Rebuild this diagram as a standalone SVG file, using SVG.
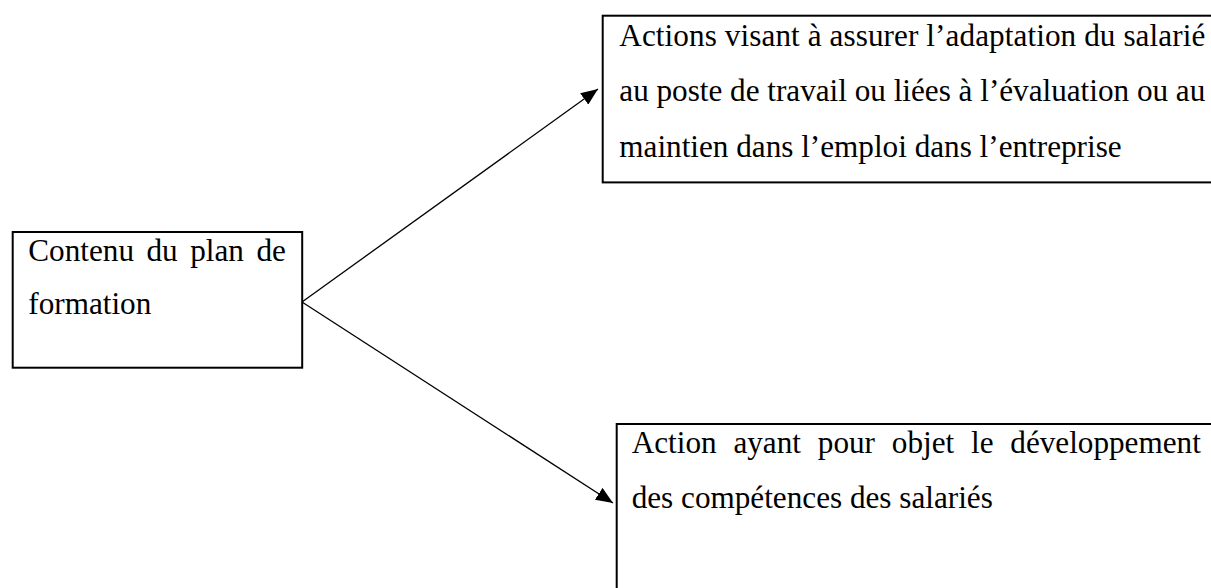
<svg xmlns="http://www.w3.org/2000/svg" width="1211" height="588" viewBox="0 0 1211 588">
<style>
.box{fill:#fff;stroke:#000;stroke-width:2}
.t{font-family:"Liberation Serif","Times New Roman",serif;font-size:31.2px;fill:#000}
.c{stroke:#000;stroke-width:1.3;fill:none}
</style>
<defs>
<marker id="ah" markerUnits="userSpaceOnUse" markerWidth="18" markerHeight="14" viewBox="0 0 18 14" refX="17" refY="7" orient="auto">
<path d="M0,0 L17,7 L0,14 Z" fill="#000"/>
</marker>
</defs>
<rect width="1211" height="588" fill="#fff"/>
<g id="connectors">
<line class="c" x1="302" y1="302" x2="598" y2="89" marker-end="url(#ah)"/>
<line class="c" x1="302" y1="302" x2="613" y2="503" marker-end="url(#ah)"/>
</g>
<g id="node-contenu">
<rect class="box" x="12.7" y="232" width="289.5" height="135.7"/>
<text class="t" y="261"><tspan x="28.3">Contenu</tspan><tspan x="146.5">du</tspan><tspan x="190.2">plan</tspan><tspan x="256.4">de</tspan></text>
<text class="t" x="28.3" y="314">formation</text>
</g>
<g id="node-adaptation">
<rect class="box" x="602.7" y="15.7" width="620" height="166.7"/>
<text class="t" x="619.3" y="45.6" textLength="586" lengthAdjust="spacing">Actions visant à assurer l’adaptation du salarié</text>
<text class="t" x="619.3" y="100.8" textLength="586" lengthAdjust="spacing">au poste de travail ou liées à l’évaluation ou au</text>
<text class="t" x="619.3" y="156.5">maintien dans l’emploi dans l’entreprise</text>
</g>
<g id="node-developpement">
<rect class="box" x="616.7" y="424" width="620" height="200"/>
<text class="t" y="453.3"><tspan x="631.7">Action</tspan><tspan x="733.4">ayant</tspan><tspan x="817.8">pour</tspan><tspan x="891.8">objet</tspan><tspan x="971">le</tspan><tspan x="1010.3">développement</tspan></text>
<text class="t" x="631.7" y="508.3">des compétences des salariés</text>
</g>
</svg>
